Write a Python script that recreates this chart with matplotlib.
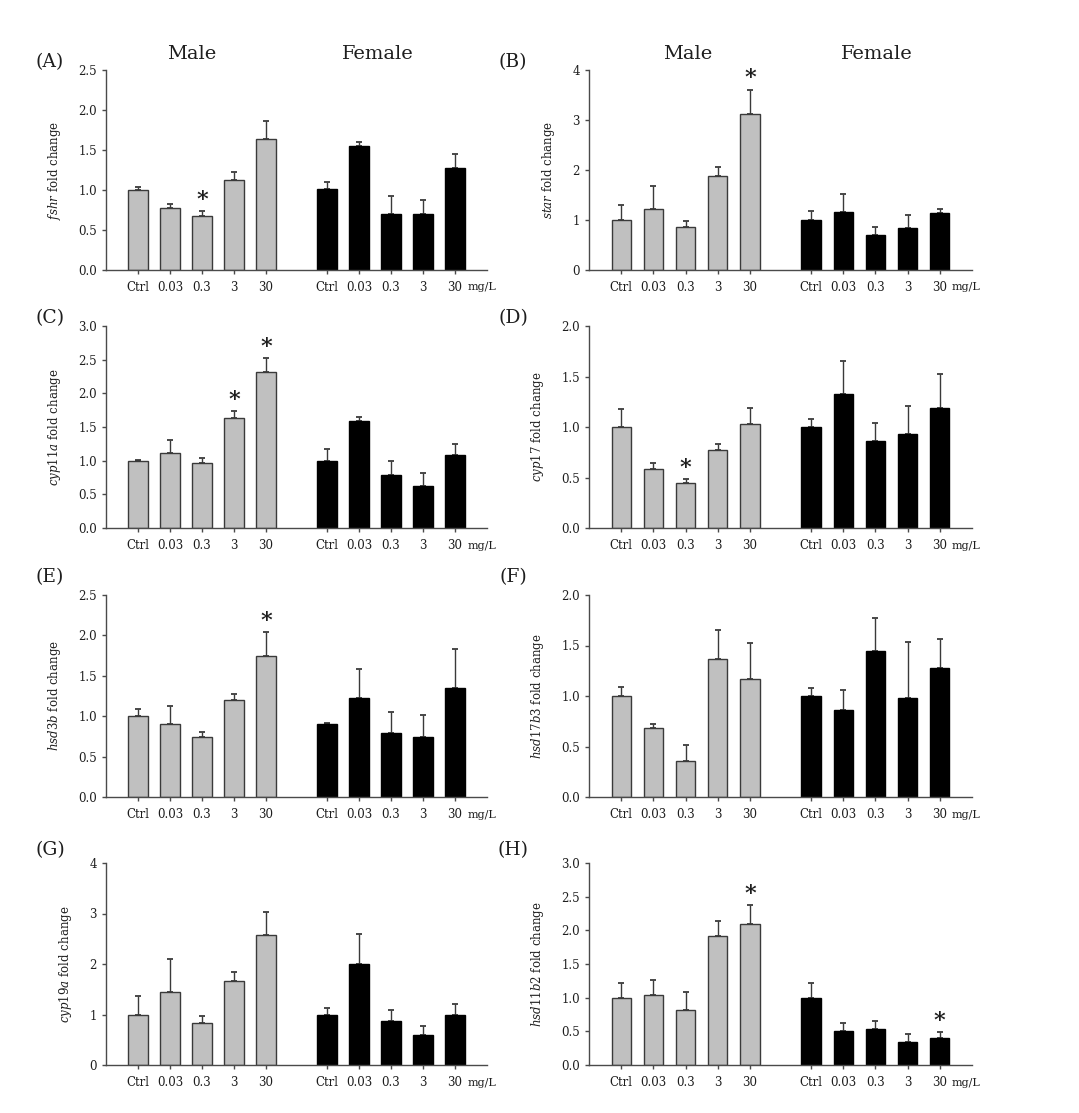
import matplotlib
matplotlib.use("Agg")
from matplotlib import pyplot as plt
import numpy as np

# dose groups (mg/L)
doses = ["Ctrl", "0.03", "0.3", "3", "30"]

genes = ["fshr", "star", "cyp11a", "cyp17", "hsd3b", "hsd17b3", "cyp19a", "hsd11b2"]
letters = ["(A)", "(B)", "(C)", "(D)", "(E)", "(F)", "(G)", "(H)"]

# mean fold change, male then female
fshr_male = [1.00, 0.77, 0.675, 1.13, 1.64]
fshr_female = [1.01, 1.55, 0.70, 0.70, 1.28]
star_male = [1.00, 1.22, 0.86, 1.88, 3.12]
star_female = [1.00, 1.17, 0.70, 0.84, 1.14]
cyp11a_male = [1.00, 1.11, 0.96, 1.63, 2.32]
cyp11a_female = [1.00, 1.59, 0.78, 0.62, 1.08]
cyp17_male = [1.00, 0.58, 0.45, 0.77, 1.03]
cyp17_female = [1.00, 1.33, 0.86, 0.93, 1.19]
hsd3b_male = [1.00, 0.90, 0.745, 1.20, 1.75]
hsd3b_female = [0.905, 1.22, 0.79, 0.74, 1.355]
hsd17b3_male = [1.00, 0.685, 0.355, 1.37, 1.17]
hsd17b3_female = [1.00, 0.86, 1.445, 0.985, 1.275]
cyp19a_male = [1.00, 1.45, 0.83, 1.67, 2.57]
cyp19a_female = [1.00, 2.00, 0.87, 0.59, 1.00]
hsd11b2_male = [1.00, 1.04, 0.82, 1.92, 2.09]
hsd11b2_female = [1.00, 0.51, 0.53, 0.34, 0.40]

# top of error bar (mean + SE)
fshr_male_top = [1.04, 0.82, 0.74, 1.23, 1.86]
fshr_female_top = [1.10, 1.60, 0.92, 0.88, 1.445]
star_male_top = [1.31, 1.69, 0.98, 2.07, 3.61]
star_female_top = [1.18, 1.53, 0.87, 1.10, 1.22]
cyp11a_male_top = [1.01, 1.30, 1.045, 1.74, 2.52]
cyp11a_female_top = [1.175, 1.65, 1.00, 0.81, 1.25]
cyp17_male_top = [1.18, 0.645, 0.49, 0.83, 1.19]
cyp17_female_top = [1.08, 1.65, 1.04, 1.21, 1.52]
hsd3b_male_top = [1.09, 1.13, 0.81, 1.28, 2.04]
hsd3b_female_top = [0.91, 1.58, 1.05, 1.01, 1.83]
hsd17b3_male_top = [1.09, 0.72, 0.51, 1.65, 1.52]
hsd17b3_female_top = [1.08, 1.06, 1.77, 1.53, 1.56]
cyp19a_male_top = [1.36, 2.10, 0.98, 1.85, 3.02]
cyp19a_female_top = [1.12, 2.60, 1.09, 0.78, 1.20]
hsd11b2_male_top = [1.22, 1.26, 1.08, 2.14, 2.37]
hsd11b2_female_top = [1.22, 0.63, 0.655, 0.46, 0.485]

male_means = [fshr_male, star_male, cyp11a_male, cyp17_male,
              hsd3b_male, hsd17b3_male, cyp19a_male, hsd11b2_male]
female_means = [fshr_female, star_female, cyp11a_female, cyp17_female,
                hsd3b_female, hsd17b3_female, cyp19a_female, hsd11b2_female]
male_tops = [fshr_male_top, star_male_top, cyp11a_male_top, cyp17_male_top,
             hsd3b_male_top, hsd17b3_male_top, cyp19a_male_top, hsd11b2_male_top]
female_tops = [fshr_female_top, star_female_top, cyp11a_female_top, cyp17_female_top,
               hsd3b_female_top, hsd17b3_female_top, cyp19a_female_top, hsd11b2_female_top]

# significant groups (index into doses)
male_sig = [[2], [4], [3, 4], [2], [4], [], [], [4]]
female_sig = [[], [], [], [], [], [], [], [4]]

y_max = [2.5, 4, 3.0, 2.0, 2.5, 2.0, 4, 3.0]
y_step = [0.5, 1, 0.5, 0.5, 0.5, 0.5, 1, 0.5]
y_fmt = ["%.1f", "%d", "%.1f", "%.1f", "%.1f", "%.1f", "%d", "%.1f"]

plt.rcParams["font.family"] = ["DejaVu Serif"]
plt.rcParams["mathtext.fontset"] = "custom"
plt.rcParams["mathtext.rm"] = "DejaVu Serif"
plt.rcParams["mathtext.it"] = "DejaVu Serif:italic"

W, H = 1079, 1113
fig = plt.figure(figsize=(W / 100, H / 100), dpi=100)

axis_col = "#4a4a4a"
text_col = "#1e1e1e"
male_pos = np.arange(5)
female_pos = np.arange(5) + 5.9

# axes boxes in pixels: (left, right) and (top, bottom)
col_x = [(106, 487), (589, 972)]
row_y = [(70, 270), (326, 528), (595, 797), (863, 1065)]
letter_xy = [(50, 62), (513, 62), (50, 318), (513, 318),
             (50, 577), (513, 577), (50, 850), (513, 850)]

for i in range(8):
    x0, x1 = col_x[i % 2]
    y0, y1 = row_y[i // 2]
    ax = fig.add_axes([x0 / W, 1 - y1 / H, (x1 - x0) / W, (y1 - y0) / H])

    m = np.array(male_means[i])
    f = np.array(female_means[i])
    me = np.array(male_tops[i]) - m
    fe = np.array(female_tops[i]) - f

    ax.bar(male_pos, m, width=0.6, color="#c0c0c0", edgecolor="#3a3a3a", linewidth=1, zorder=2)
    ax.bar(female_pos, f, width=0.6, color="black", edgecolor="black", linewidth=1, zorder=2)
    ax.errorbar(male_pos, m, yerr=[np.zeros(5), me], fmt="none", ecolor="#3a3a3a",
                elinewidth=1, capsize=2.5, capthick=1.3, zorder=1)
    ax.errorbar(female_pos, f, yerr=[np.zeros(5), fe], fmt="none", ecolor="#3a3a3a",
                elinewidth=1, capsize=2.5, capthick=1.3, zorder=1)

    for k in male_sig[i]:
        ax.annotate("*", xy=(male_pos[k], male_tops[i][k]), xytext=(0, 0),
                    textcoords="offset points", ha="center", va="bottom",
                    fontsize=16, fontweight="bold", color=text_col)
    for k in female_sig[i]:
        ax.annotate("*", xy=(female_pos[k], female_tops[i][k]), xytext=(0, 0),
                    textcoords="offset points", ha="center", va="bottom",
                    fontsize=16, fontweight="bold", color=text_col)

    ax.set_xlim(-1.0, 10.9)
    ax.set_ylim(0, y_max[i])
    yt = np.arange(0, y_max[i] + 1e-9, y_step[i])
    ax.set_yticks(yt)
    ax.set_yticklabels([y_fmt[i] % v for v in yt])
    ax.set_xticks(np.concatenate([male_pos, female_pos]))
    ax.set_xticklabels(doses + doses)

    for s in ["top", "right"]:
        ax.spines[s].set_visible(False)
    for s in ["left", "bottom"]:
        ax.spines[s].set_color(axis_col)
        ax.spines[s].set_linewidth(1)
    ax.tick_params(axis="both", direction="out", length=3, width=1, color=axis_col,
                   labelsize=8.5, labelcolor=text_col)
    ax.tick_params(axis="x", pad=5)

    ax.annotate("mg/L", xy=(female_pos[4] + 0.38, 0), xycoords=("data", "axes fraction"),
                xytext=(0, -9), textcoords="offset points", ha="left", va="top",
                fontsize=8, color=text_col)

    ax.set_ylabel(r"$\mathit{%s}$ fold change" % genes[i], fontsize=8.5, labelpad=11,
                  color=text_col)

    lx, ly = letter_xy[i]
    fig.text(lx / W, 1 - ly / H, letters[i], fontsize=13.5, ha="center", va="center",
             color=text_col)

# group titles on the top row
for x, txt in [(192, "Male"), (378, "Female"), (688, "Male"), (877, "Female")]:
    fig.text(x / W, 1 - 54 / H, txt, fontsize=14, ha="center", va="center", color=text_col)

fig.savefig("out.png", dpi=100)
